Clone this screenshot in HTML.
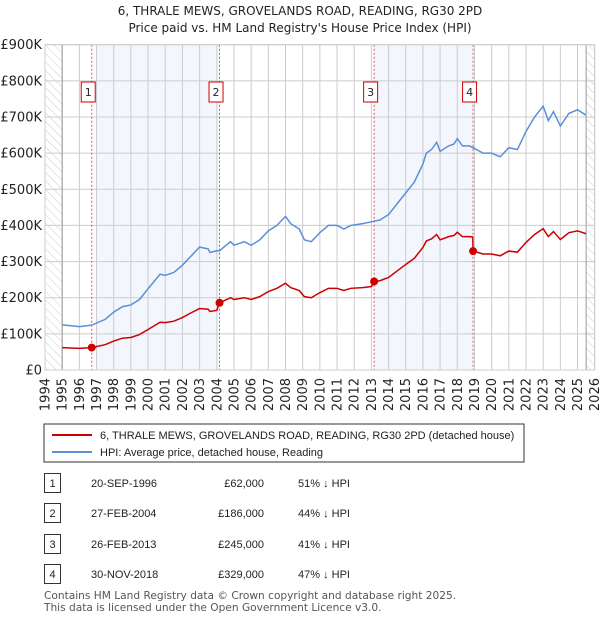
<!DOCTYPE html>
<html><head><meta charset="utf-8"><style>
body{margin:0;background:#fff;font-family:"Liberation Sans","DejaVu Sans",sans-serif;}
svg{display:block}
.dv{font-family:"DejaVu Sans","Liberation Sans",sans-serif;}
</style></head><body>
<svg id="c" width="600" height="620" xmlns="http://www.w3.org/2000/svg">
<defs><pattern id="hatch" width="6" height="6" patternUnits="userSpaceOnUse" patternTransform="rotate(-45)"><line x1="0" y1="0" x2="0" y2="6" stroke="#ccc" stroke-width="1"/></pattern></defs>
<text class="dv" x="300" y="15" text-anchor="middle" font-size="12" fill="#222">6, THRALE MEWS, GROVELANDS ROAD, READING, RG30 2PD</text>
<text class="dv" x="300" y="32" text-anchor="middle" font-size="12" fill="#222">Price paid vs. HM Land Registry's House Price Index (HPI)</text>
<g id="plot"></g>
<g>
<rect x="44" y="424" width="480" height="38" fill="#fff" stroke="#333"/>
<line x1="52" y1="435" x2="92" y2="435" stroke="#cc0000" stroke-width="2"/>
<text x="100" y="439" font-size="11" fill="#222">6, THRALE MEWS, GROVELANDS ROAD, READING, RG30 2PD (detached house)</text>
<line x1="52" y1="452" x2="92" y2="452" stroke="#5b8fd6" stroke-width="2"/>
<text x="100" y="456" font-size="11" fill="#222">HPI: Average price, detached house, Reading</text>
</g>
<g id="table" font-size="11" fill="#222"></g>
<text class="dv" x="44" y="599" font-size="10.6" fill="#555">Contains HM Land Registry data © Crown copyright and database right 2025.</text>
<text class="dv" x="44" y="611" font-size="10.6" fill="#555">This data is licensed under the Open Government Licence v3.0.</text>
</svg>
<script>
const hpiDates=[1995,1996,1996.72,1997.5,1998,1998.5,1999,1999.5,2000,2000.7,2001,2001.5,2002,2002.5,2003,2003.5,2003.6,2004,2004.16,2004.8,2005,2005.6,2006,2006.5,2007,2007.5,2008,2008.3,2008.8,2009.1,2009.5,2010,2010.5,2011,2011.4,2011.8,2012.5,2013,2013.16,2013.5,2014,2014.5,2015,2015.5,2016,2016.2,2016.5,2016.8,2017,2017.5,2017.8,2018,2018.3,2018.7,2018.92,2019.5,2020,2020.5,2021,2021.5,2022,2022.5,2023,2023.3,2023.6,2024,2024.5,2025,2025.5];
const hpiValues=[125,120,124,140,160,175,180,195,225,265,262,270,290,315,340,335,325,330,330,355,345,355,345,360,385,400,425,405,390,360,355,380,400,400,390,400,405,410,412,415,430,460,490,520,570,600,610,630,605,620,625,640,620,620,615,600,600,590,615,610,660,700,730,690,715,675,710,720,705];
const redDates=[1995,1996,1996.72,1997.5,1998,1998.5,1999,1999.5,2000,2000.7,2001,2001.5,2002,2002.5,2003,2003.5,2003.6,2004,2004.16,2004.8,2005,2005.6,2006,2006.5,2007,2007.5,2008,2008.3,2008.8,2009.1,2009.5,2010,2010.5,2011,2011.4,2011.8,2012.5,2013,2013.16,2013.5,2014,2014.5,2015,2015.5,2016,2016.2,2016.5,2016.8,2017,2017.5,2017.8,2018,2018.3,2018.7,2018.9,2018.92,2019.5,2020,2020.5,2021,2021.5,2022,2022.5,2023,2023.3,2023.6,2024,2024.5,2025,2025.5];
const redValues=[62,60,62,70,80,88,90,98,112,132,131,135,145,158,170,168,162,165,186,200,195,200,195,203,217,226,240,228,220,203,200,214,226,226,220,226,228,231,245,247,256,274,292,309,339,357,363,375,360,369,372,381,369,369,368,329,321,321,316,329,326,353,375,391,369,383,361,380,385,377];
const saleDates=[1996.72,2004.16,2013.16,2018.92];
const salePrices=[62,186,245,329];
const saleLabels=["1","2","3","4"];
const saleDateText=["20-SEP-1996","27-FEB-2004","26-FEB-2013","30-NOV-2018"];
const salePriceText=["£62,000","£186,000","£245,000","£329,000"];
const saleHpiText=["51% ↓ HPI","44% ↓ HPI","41% ↓ HPI","47% ↓ HPI"];
const yTicks=[0,100,200,300,400,500,600,700,800,900];
const yTickLabels=["£0","£100K","£200K","£300K","£400K","£500K","£600K","£700K","£800K","£900K"];
const xYears=[1994,1995,1996,1997,1998,1999,2000,2001,2002,2003,2004,2005,2006,2007,2008,2009,2010,2011,2012,2013,2014,2015,2016,2017,2018,2019,2020,2021,2022,2023,2024,2025,2026];

const NS="http://www.w3.org/2000/svg";
const L=45,R=594.7,T=44.7,B=370;
const x=y=>L+(y-1994)*(R-L)/32;
const yv=v=>B-v*(B-T)/900;
const plot=document.getElementById('plot');
function mk(tag,attrs,parent){const e=document.createElementNS(NS,tag);for(const k in attrs)e.setAttribute(k,attrs[k]);(parent||plot).appendChild(e);return e;}

let e=mk('rect',{x:L,y:T,width:x(1995)-L,height:B-T,fill:'url(#hatch)'});


e=mk('rect',{x:x(2025.5),y:T,width:R-x(2025.5),height:B-T,fill:'url(#hatch)'});


e=mk('rect',{x:x(1997),y:T,width:x(saleDates[1])-x(1997),height:B-T,fill:'#eef3fc',opacity:0.7});


e=mk('rect',{x:x(saleDates[2]),y:T,width:x(saleDates[3])-x(saleDates[2]),height:B-T,fill:'#eef3fc',opacity:0.7});



xYears.forEach((yr,i)=>{
  const g=mk('line',{x1:x(yr),x2:x(yr),y1:T,y2:B,stroke:'#ccc','stroke-width':1});
  
  
  const t=mk('text',{x:0,y:0,transform:`translate(${x(yr)+4.5},${B+8}) rotate(-90)`,'text-anchor':'end','font-size':13,fill:'#222','class':'dv'});
  t.textContent=yr;
  
  
});
yTicks.forEach((v,i)=>{
  const g=mk('line',{x1:L,x2:R,y1:yv(v),y2:yv(v),stroke:'#ccc','stroke-width':1});
  
  
  const t=mk('text',{x:L-3,y:yv(v)+4.5,'text-anchor':'end','font-size':13,fill:'#222','class':'dv'});
  t.textContent=yTickLabels[i];
  
  
});
e=mk('line',{x1:x(1995),x2:x(1995),y1:T,y2:B,stroke:'#999'});


e=mk('line',{x1:x(2025.5),x2:x(2025.5),y1:T,y2:B,stroke:'#999'});



saleDates.forEach((d,i)=>{
  const l=mk('line',{x1:x(d),x2:x(d),y1:T,y2:B,stroke:'#e05050','stroke-width':1,'stroke-dasharray':'2,2'});
  
  
  const r=mk('rect',{x:x(d)-10.5,y:82,width:14,height:20,fill:'#fff',stroke:'#cc0000'});
  
  
  const t=mk('text',{x:x(d)-3.5,y:96,'text-anchor':'middle','font-size':11,fill:'#222','class':'dv'});
  t.textContent=saleLabels[i];
  
  
});

const hp=mk('polyline',{points:hpiDates.map((d,i)=>x(d)+','+yv(hpiValues[i])).join(' '),fill:'none',stroke:'#5b8fd6','stroke-width':1.5});


const rp=mk('polyline',{points:redDates.map((d,i)=>x(d)+','+yv(redValues[i])).join(' '),fill:'none',stroke:'#cc0000','stroke-width':1.5});


saleDates.forEach((d,i)=>{
  const c=mk('circle',{cx:x(d),cy:yv(salePrices[i]),r:4,fill:'#cc0000'});
  
  
});
e=mk('rect',{x:L,y:T,width:R-L,height:B-T,fill:'none',stroke:'#ccc'});



const tb=document.getElementById('table');
const rowY=[483,513,544,574];
saleLabels.forEach((s,i)=>{
  const y=rowY[i];
  const b=mk('rect',{x:44.5,y:y-9.5,width:16,height:19,fill:'#fff',stroke:'#333'},tb);
  
  
  const n=mk('text',{x:52.5,y:y+4,'text-anchor':'middle'},tb);n.textContent=s;
  
  
  const d=mk('text',{x:91,y:y+4},tb);d.textContent=saleDateText[i];
  
  
  const p=mk('text',{x:264,y:y+4,'text-anchor':'end'},tb);p.textContent=salePriceText[i];
  
  
  const h=mk('text',{x:298,y:y+4},tb);h.textContent=saleHpiText[i];
  
  
});
</script>
</body></html>
